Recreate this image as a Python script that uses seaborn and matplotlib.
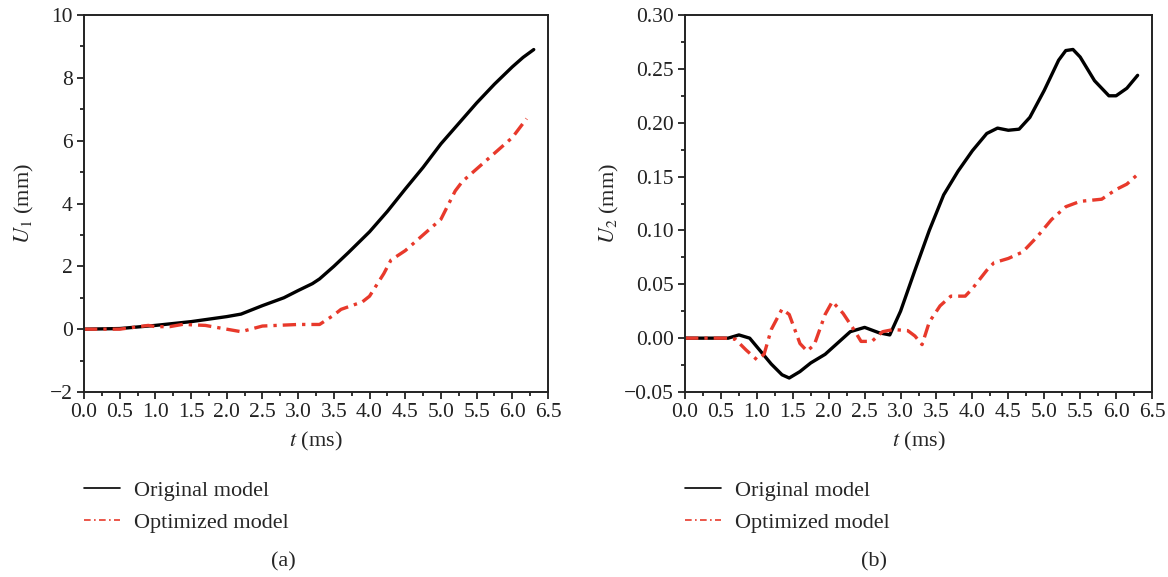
#!/usr/bin/env python3

# Imports:
import matplotlib

matplotlib.use("Agg")
import matplotlib.pyplot as plt
import pandas as pd
import seaborn as sns
from matplotlib.lines import Line2D
from matplotlib.ticker import MultipleLocator

# Data:
t_a_orig = [0.0, 0.5, 1.0, 1.5, 2.0, 2.2, 2.5, 2.8, 3.0, 3.2, 3.3, 3.5, 3.7,
            4.0, 4.25, 4.5, 4.75, 5.0, 5.25, 5.5, 5.75, 6.0, 6.15, 6.3]
u1_orig = [0.0, 0.02, 0.12, 0.24, 0.4, 0.48, 0.75, 1.0, 1.23, 1.45, 1.6, 2.0,
           2.43, 3.1, 3.75, 4.46, 5.15, 5.9, 6.55, 7.2, 7.8, 8.35, 8.65, 8.9]
t_a_opt = [0.0, 0.5, 0.9, 1.0, 1.2, 1.4, 1.5, 1.7, 2.0, 2.2, 2.5, 3.0, 3.3,
           3.5, 3.6, 3.9, 4.0, 4.2, 4.3, 4.5, 4.8, 5.0, 5.2, 5.3, 5.5, 5.8,
           6.0, 6.2]
u1_opt = [0.0, 0.0, 0.12, 0.08, 0.08, 0.16, 0.14, 0.12, 0.0, -0.08, 0.1,
          0.15, 0.15, 0.45, 0.63, 0.87, 1.05, 1.77, 2.2, 2.5, 3.1, 3.5, 4.4,
          4.7, 5.1, 5.7, 6.1, 6.7]

t_b_orig = [0.0, 0.6, 0.75, 0.9, 1.0, 1.2, 1.35, 1.45, 1.6, 1.75, 1.95, 2.1,
            2.3, 2.5, 2.7, 2.85, 3.0, 3.2, 3.4, 3.6, 3.8, 4.0, 4.2, 4.35,
            4.5, 4.65, 4.8, 5.0, 5.2, 5.3, 5.4, 5.5, 5.7, 5.9, 6.0, 6.15, 6.3]
u2_orig = [0.0, 0.0, 0.003, 0.0, -0.008, -0.024, -0.034, -0.037, -0.031,
           -0.023, -0.015, -0.006, 0.006, 0.01, 0.005, 0.003, 0.025, 0.063,
           0.10, 0.133, 0.155, 0.174, 0.19, 0.195, 0.193, 0.194, 0.205, 0.23,
           0.258, 0.267, 0.268, 0.261, 0.239, 0.225, 0.225, 0.232, 0.244]
t_b_opt = [0.0, 0.55, 0.7, 0.85, 1.0, 1.1, 1.2, 1.35, 1.45, 1.6, 1.7, 1.8,
           1.95, 2.05, 2.2, 2.35, 2.45, 2.6, 2.75, 2.9, 3.1, 3.2, 3.3, 3.4,
           3.55, 3.7, 3.9, 4.0, 4.2, 4.3, 4.5, 4.7, 4.9, 5.1, 5.3, 5.5, 5.8,
           6.0, 6.15, 6.3]
u2_opt = [0.0, 0.0, -0.001, -0.011, -0.02, -0.015, 0.008, 0.027, 0.022,
          -0.005, -0.012, -0.006, 0.022, 0.034, 0.023, 0.008, -0.003, -0.003,
          0.006, 0.008, 0.007, 0.002, -0.006, 0.015, 0.03, 0.039, 0.039,
          0.046, 0.063, 0.07, 0.074, 0.08, 0.094, 0.11, 0.122, 0.127, 0.129,
          0.138, 0.143, 0.152]

series_labels = ["Original model", "Optimized model"]
panel_labels = ["(a)", "(b)"]
y_labels = ["$U_1$ (mm)", "$U_2$ (mm)"]
x_label = "$t$ (ms)"

RED = "#e8392b"
DASHDOT = (0, (4, 1.8, 1, 1.8))

sns.set_theme(style="ticks")
plt.rcParams["font.family"] = ["Liberation Serif", "DejaVu Serif"]
plt.rcParams["mathtext.fontset"] = "stix"
plt.rcParams["axes.linewidth"] = 1.4
plt.rcParams["axes.edgecolor"] = "#222222"

fig = plt.figure(figsize=(11.68, 5.77), dpi=100)
ax_a = fig.add_axes([0.0719, 0.3206, 0.3973, 0.6534])
ax_b = fig.add_axes([0.5865, 0.3206, 0.3998, 0.6534])

panels = [
    (ax_a, t_a_orig, u1_orig, t_a_opt, u1_opt, (-2, 10), 2, 1, "{:.0f}",
     0.43, 10),
    (ax_b, t_b_orig, u2_orig, t_b_opt, u2_opt, (-0.05, 0.30), 0.05, 0.025,
     "{:.2f}", 0.405, 2),
]

for i, (ax, t1, y1, t2, y2, ylim, major, minor, fmt, cap_x, ypad) in (
    enumerate(panels)
):
    orig = pd.DataFrame({"t": t1, "u": y1})
    opt = pd.DataFrame({"t": t2, "u": y2})
    sns.lineplot(data=orig, x="t", y="u", ax=ax, color="black", lw=2.4)
    sns.lineplot(data=opt, x="t", y="u", ax=ax, color=RED, lw=2.4,
                 linestyle=DASHDOT)
    ax.set_xlim(0, 6.5)
    ax.set_ylim(*ylim)
    ax.xaxis.set_major_locator(MultipleLocator(0.5))
    ax.xaxis.set_minor_locator(MultipleLocator(0.25))
    ax.yaxis.set_major_locator(MultipleLocator(major))
    ax.yaxis.set_minor_locator(MultipleLocator(minor))
    ax.set_xticklabels([f"{v:.1f}" for v in ax.get_xticks()])
    ticks = ax.get_yticks()
    ax.set_yticklabels([fmt.format(v).replace("-", "\u2212") for v in ticks])
    ax.tick_params(which="major", length=5, width=1.3, labelsize=15.5,
                   colors="#222222", pad=3)
    ax.tick_params(which="minor", length=3, width=1.3, colors="#222222")
    ax.tick_params(axis="both", which="both", top=False, right=False)
    ax.set_xlabel(x_label, fontsize=16, labelpad=6)
    ax.set_ylabel(y_labels[i], fontsize=16, labelpad=ypad)
    for side in ["top", "right", "left", "bottom"]:
        ax.spines[side].set_visible(True)

    handles = [
        Line2D([], [], color="black", lw=1.2),
        Line2D([], [], color=RED, lw=1.2, linestyle=(0, (4, 2, 1, 2))),
    ]
    ax.legend(handles, series_labels, loc="upper left",
              bbox_to_anchor=(0.0, -0.235), frameon=False, fontsize=16,
              handlelength=1.6, handletextpad=0.65, labelspacing=0.5,
              borderaxespad=0, borderpad=0)
    ax.text(cap_x, -0.45, panel_labels[i], transform=ax.transAxes,
            fontsize=16, ha="center", va="center")

fig.savefig("out.png", dpi=100)
